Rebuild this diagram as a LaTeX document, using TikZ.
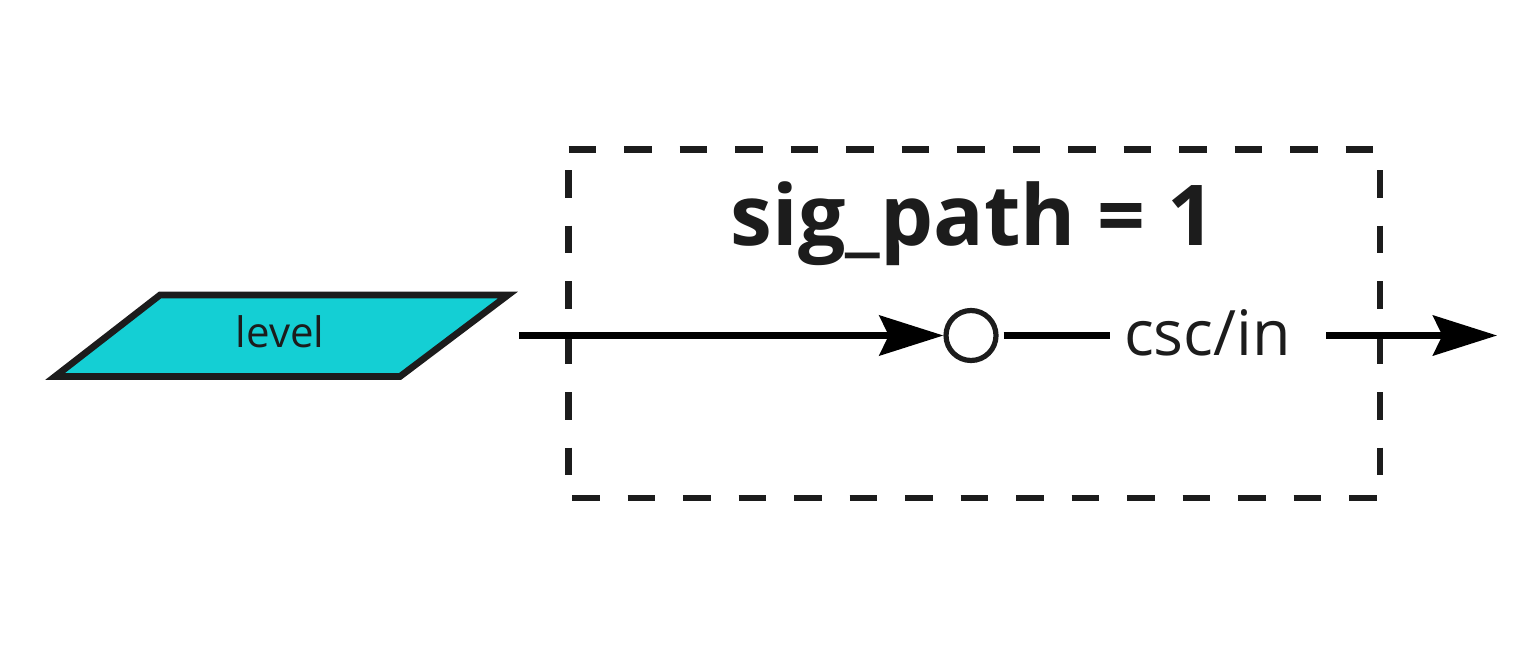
\documentclass[tikz,border=0pt]{standalone}
\usepackage{fontspec}
\setmainfont{Open Sans}
\usetikzlibrary{arrows.meta}
\definecolor{ink}{HTML}{1C1C1C}
\definecolor{cyanfill}{HTML}{14CFD4}
\begin{document}
\begin{tikzpicture}[x=0.75pt,y=-0.75pt,
  shapeline/.style={draw=ink, line width=5pt, line join=miter},
  dashside/.style={draw=ink, line width=5pt, dash pattern=on 20.625pt off 21pt},
  flow/.style={draw=black, line width=4.8pt, -{Stealth[length=48pt,width=30pt,inset=7pt]}},
  wire/.style={draw=black, line width=4.8pt},
  junction/.style={circle, draw=ink, line width=3.9pt, minimum size=37.5pt, inner sep=0pt},
  smalltext/.style={font=\fontsize{31.5}{36}\selectfont, text=ink, anchor=base},
  midtext/.style={font=\fontsize{47}{52}\selectfont, text=ink, anchor=base, inner sep=0pt},
  titletext/.style={font=\bfseries\fontsize{63}{70}\selectfont, text=ink, anchor=base}]
\useasboundingbox (0,0) rectangle (1537,650);
% input parallelogram
\path[shapeline, fill=cyanfill] (160,295) -- (508,295) -- (400,376.5) -- (55,376.5) -- cycle;
\node[smalltext] (level) at (280,347) {level};
% dashed group box
\coordinate (bnw) at (568.5,149.5);
\coordinate (bne) at (1380,149.5);
\coordinate (bsw) at (568.5,498);
\coordinate (bse) at (1380,498);
\draw[dashside, dash phase=0pt] (bnw) -- (bne);
\draw[dashside, dash phase=26.25pt] (bnw) -- (bsw);
\draw[dashside, dash phase=26.25pt] (bne) -- (bse);
\draw[dashside, dash phase=39pt] (bsw) -- (bse);
\node[titletext] (title) at (973,245) {sig\_path = 1};
% signal path
\coordinate (src) at (519,335.5);
\coordinate (dst) at (1497,335.5);
\node[junction] (circ) at (971,335.5) {};
\node[midtext] (lbl) at (1207.5,355) {csc/in};
\draw[flow] (src) -- (circ);
\draw[wire, shorten <=3.75pt, shorten >=10.5pt] (circ) -- (circ -| lbl.west);
\draw[flow, shorten <=26.25pt] (circ -| lbl.east) -- (dst);
\end{tikzpicture}
\end{document}
